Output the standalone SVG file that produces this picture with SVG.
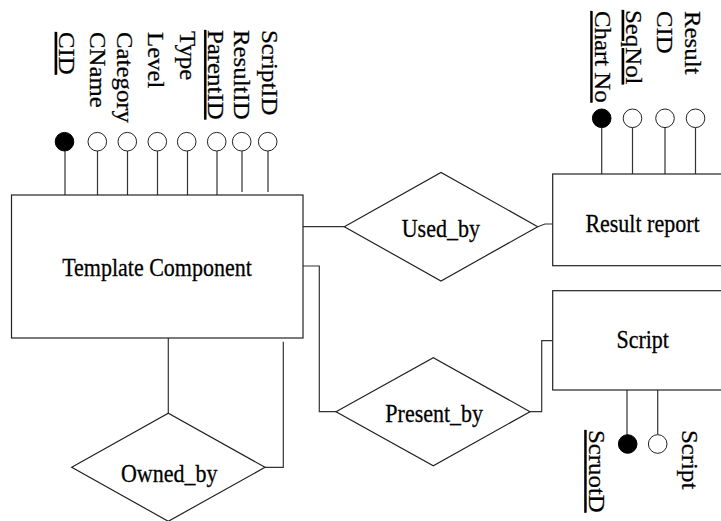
<svg xmlns="http://www.w3.org/2000/svg" width="721" height="521" viewBox="0 0 721 521">
<style>
text{font-family:"Liberation Serif","Times New Roman",serif;font-size:22px;fill:#000;stroke:#000;stroke-width:0.25}
.v{font-size:23px}
.ent,.rel{fill:#fff;stroke:#222;stroke-width:1.2}
.k{fill:#000;stroke:#000;stroke-width:1}
.a{fill:#fff;stroke:#222;stroke-width:1}
.c{fill:none;stroke:#333;stroke-width:1.2}
.u{text-decoration:underline}
</style>
<rect width="721" height="521" fill="#fff"/>
<g id="connectors">
<path class="c" d="M65 151V195M97.5 151V195M127.5 151V195M157.5 151V195M187.5 151V195M217 151V195M242 151V192M268 151V192"/>
<path class="c" d="M601.7 127.5V174M632.5 127.5V174M665 127.5V174M695.5 127.5V174"/>
<path class="c" d="M627 390V435M657.7 390V434.5"/>
<path class="c" d="M303 226.7H344.3"/>
<path class="c" d="M537.7 226.7L545 224H552.7"/>
<path class="c" d="M303 266H319.3V411.7H336"/>
<path class="c" d="M530 411.7H541.7V340.7H552.7"/>
<path class="c" d="M168.3 338V413.3"/>
<path class="c" d="M265 467.3H283.3V341.7"/>
</g>
<g id="template_component">
<rect class="ent" x="11.5" y="195" width="291.5" height="143"/>
<text x="157" y="276.5" text-anchor="middle" transform="translate(0,276.5) scale(1,1.16) translate(0,-276.5)">Template Component</text>
</g>
<g id="result_report">
<rect class="ent" x="552.7" y="174" width="180" height="91.7"/>
<text x="642.5" y="231.7" text-anchor="middle" transform="translate(0,231.7) scale(1,1.16) translate(0,-231.7)">Result report</text>
</g>
<g id="script">
<rect class="ent" x="552.7" y="290.7" width="180" height="99.3"/>
<text x="642.7" y="348.3" text-anchor="middle" transform="translate(0,348.3) scale(1,1.16) translate(0,-348.3)">Script</text>
</g>
<g id="used_by">
<polygon class="rel" points="344.3,226.7 441,172.4 537.7,226.7 441,281"/>
<text x="440.8" y="236.7" text-anchor="middle" transform="translate(0,236.7) scale(1,1.16) translate(0,-236.7)">Used_by</text>
</g>
<g id="present_by">
<polygon class="rel" points="336,411.7 433.3,357.7 530,411.7 433.3,465.7"/>
<text x="434.2" y="421.7" text-anchor="middle" transform="translate(0,421.7) scale(1,1.16) translate(0,-421.7)">Present_by</text>
</g>
<g id="owned_by">
<polygon class="rel" points="71.7,467.3 168.3,413.3 265,467.3 168.3,521.3"/>
<text x="169.2" y="481.7" text-anchor="middle" transform="translate(0,481.7) scale(1,1.16) translate(0,-481.7)">Owned_by</text>
</g>
<g id="attr_cid"><circle class="k" cx="64.5" cy="141.7" r="9.3"/><text class="v u" transform="translate(59,32) scale(1,1.08) rotate(90)">CID</text></g>
<g id="attr_cname"><circle class="a" cx="97.3" cy="141.7" r="9.3"/><text class="v" transform="translate(89.5,32) scale(1,1.08) rotate(90)">CName</text></g>
<g id="attr_category"><circle class="a" cx="127.3" cy="141.7" r="9.3"/><text class="v" transform="translate(117,32) scale(1,1.08) rotate(90)">Category</text></g>
<g id="attr_level"><circle class="a" cx="157.3" cy="141.7" r="9.3"/><text class="v" transform="translate(147.5,32) scale(1,1.08) rotate(90)">Level</text></g>
<g id="attr_type"><circle class="a" cx="186.7" cy="141.7" r="9.3"/><text class="v" transform="translate(180,31) scale(1,1.08) rotate(90)">Type</text></g>
<g id="attr_parentid"><circle class="a" cx="216.7" cy="141.7" r="9.3"/><text class="v u" transform="translate(208.3,30) scale(1,1.08) rotate(90)">ParentID</text></g>
<g id="attr_resultid"><circle class="a" cx="241.7" cy="141.7" r="9.3"/><text class="v" transform="translate(234.3,30) scale(1,1.08) rotate(90)">ResultID</text></g>
<g id="attr_scriptid"><circle class="a" cx="267.7" cy="141.7" r="9.3"/><text class="v" transform="translate(261.5,30) scale(1,1.08) rotate(90)">ScriptID</text></g>
<g id="attr_chartno"><circle class="k" cx="601.7" cy="118.3" r="9.3"/><text class="v u" transform="translate(594.5,11) scale(1,1.08) rotate(90)">Chart No</text></g>
<g id="attr_seqnol"><circle class="a" cx="632.5" cy="118.3" r="9.3"/><text class="v u" transform="translate(626,10) scale(1,1.08) rotate(90)">SeqNol</text></g>
<g id="attr_cid2"><circle class="a" cx="665" cy="118.3" r="9.3"/><text class="v" transform="translate(657.3,11) scale(1,1.08) rotate(90)">CID</text></g>
<g id="attr_result"><circle class="a" cx="695.5" cy="118.3" r="9.3"/><text class="v" transform="translate(685,11) scale(1,1.08) rotate(90)">Result</text></g>
<g id="attr_scruotd"><circle class="k" cx="627.7" cy="444" r="9.3"/><text class="v u" transform="translate(588.5,430) scale(1,1.08) rotate(90)">ScruotD</text></g>
<g id="attr_script"><circle class="a" cx="657.7" cy="444" r="9.3"/><text class="v" transform="translate(682,430) scale(1,1.08) rotate(90)">Script</text></g>
</svg>
